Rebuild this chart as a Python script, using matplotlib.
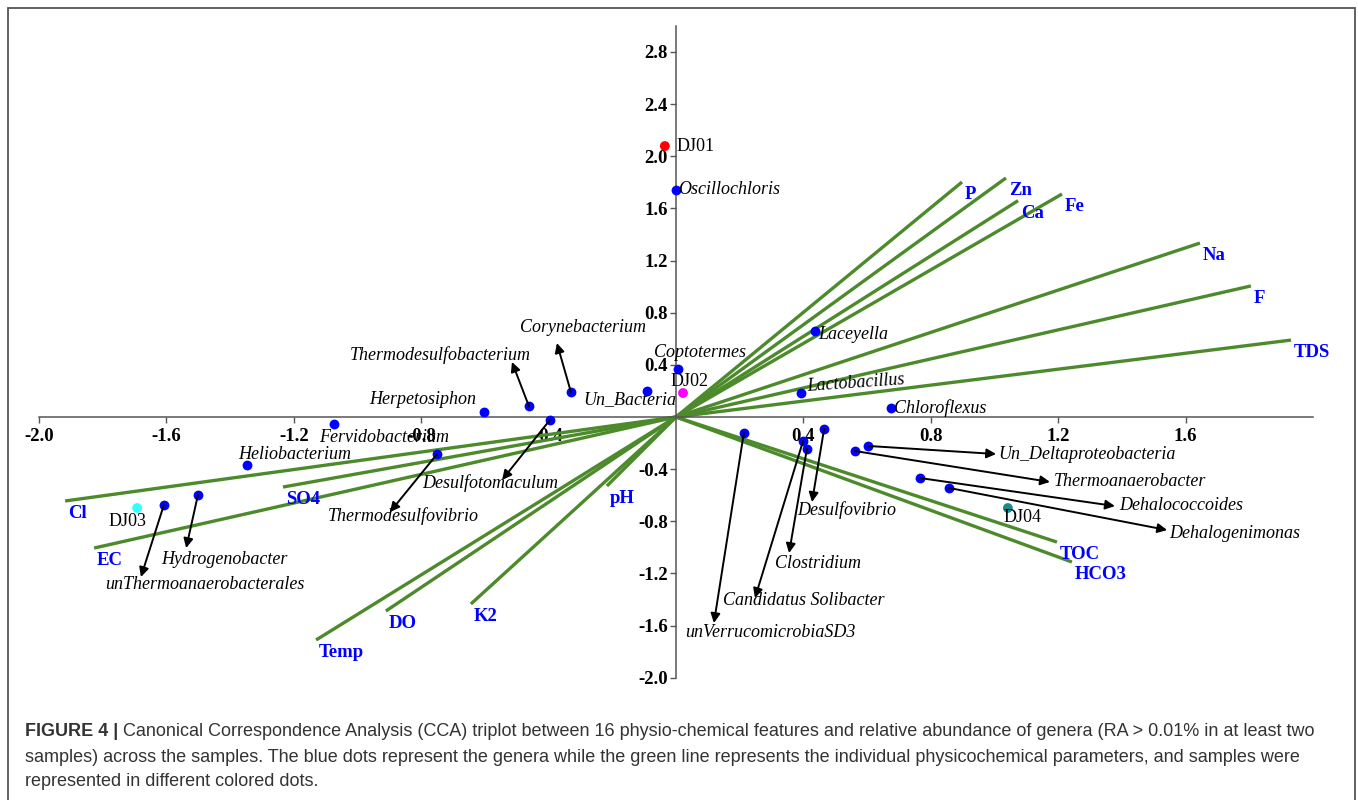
import matplotlib
matplotlib.use("Agg")
import matplotlib.pyplot as plt
from matplotlib.patches import Rectangle

plt.rcParams['axes.unicode_minus'] = False

# sample scores
samples = ["DJ01", "DJ02", "DJ03", "DJ04"]
sample_x = [-0.035, 0.022, -1.692, 1.042]
sample_y = [2.078, 0.184, -0.698, -0.698]
sample_colors = ["#ff0000", "#ff00ff", "#33ffff", "#1a8c8c"]

# physico-chemical vectors (end points)
env_names = ["P", "Zn", "Ca", "Fe", "Na", "F", "TDS", "TOC", "HCO3",
             "pH", "K2", "DO", "Temp", "SO4", "EC", "Cl"]
env_x = [0.898, 1.036, 1.074, 1.212, 1.645, 1.805, 1.931, 1.196, 1.243,
         -0.217, -0.644, -0.911, -1.130, -1.234, -1.827, -1.918]
env_y = [1.802, 1.833, 1.659, 1.710, 1.334, 1.005, 0.590, -0.959, -1.112,
         -0.529, -1.434, -1.488, -1.710, -0.537, -1.005, -0.644]

# genera labelled directly next to their dot
genera = ["Oscillochloris", "Laceyella", "Lactobacillus", "Chloroflexus",
          "Coptotermes", "Un_Bacteria", "Herpetosiphon", "Fervidobacterium",
          "Heliobacterium"]
genus_x = [0.000, 0.436, 0.392, 0.675, 0.006, -0.091, -0.603, -1.074, -1.347]
genus_y = [1.741, 0.660, 0.184, 0.069, 0.368, 0.199, 0.038, -0.054, -0.368]

# genera labelled through an arrow
arrow_genera = ["Corynebacterium", "Thermodesulfobacterium", "Desulfotomaculum",
                "Thermodesulfovibrio", "Hydrogenobacter", "unThermoanaerobacterales",
                "unVerrucomicrobiaSD3", "Candidatus Solibacter", "Clostridium",
                "Desulfovibrio", "Un_Deltaproteobacteria", "Thermoanaerobacter",
                "Dehalococcoides", "Dehalogenimonas"]
arrow_x = [-0.330, -0.462, -0.396, -0.750, -1.501, -1.608,
           0.213, 0.399, 0.411, 0.465, 0.603, 0.562, 0.766, 0.857]
arrow_y = [0.192, 0.084, -0.023, -0.284, -0.598, -0.675,
           -0.123, -0.184, -0.245, -0.092, -0.222, -0.261, -0.468, -0.544]
head_x = [-0.374, -0.515, -0.546, -0.898, -1.538, -1.680,
          0.119, 0.248, 0.355, 0.427, 1.005, 1.174, 1.378, 1.542]
head_y = [0.567, 0.422, -0.483, -0.729, -1.005, -1.227,
          -1.580, -1.388, -1.043, -0.652, -0.284, -0.498, -0.683, -0.867]

# text placement (layout only)
genus_lab = [(0.006, 1.741, 'left'), (0.446, 0.629, 'left'), (0.408, 0.262, 'left'),
             (0.684, 0.069, 'left'), (0.075, 0.498, 'center'), (-0.144, 0.130, 'center'),
             (-0.794, 0.138, 'center'), (-0.917, -0.161, 'center'), (-1.196, -0.285, 'center')]
arrow_lab = [(-0.292, 0.683, 'center'), (-0.741, 0.475, 'center'), (-0.584, -0.506, 'center'),
             (-0.857, -0.759, 'center'), (-1.419, -1.089, 'center'), (-1.479, -1.281, 'center'),
             (0.295, -1.649, 'center'), (0.402, -1.411, 'center'), (0.446, -1.120, 'center'),
             (0.537, -0.713, 'center'), (1.011, -0.284, 'left'), (1.187, -0.498, 'left'),
             (1.391, -0.675, 'left'), (1.548, -0.890, 'left')]
sample_lab = [(0.003, 2.078), (-0.016, 0.276), (-1.783, -0.805), (1.027, -0.767)]

serif = 'Liberation Serif'
green = '#4c8a2c'

fig = plt.figure(figsize=(13.58, 8), dpi=100)
ax = fig.add_axes([39 / 1358, 1 - 677.8 / 800, 1274 / 1358, 652 / 800])
ax.set_xlim(-2.0, 2.0)
ax.set_ylim(-2.0, 3.0)

# axes through the origin
for s in ['top', 'right']:
    ax.spines[s].set_visible(False)
ax.spines['left'].set_position(('data', 0))
ax.spines['bottom'].set_position(('data', 0))
for s in ['left', 'bottom']:
    ax.spines[s].set_color('#555555')
    ax.spines[s].set_linewidth(1.1)
xt = [-2.0, -1.6, -1.2, -0.8, -0.4, 0.4, 0.8, 1.2, 1.6]
yt = [-2.0, -1.6, -1.2, -0.8, -0.4, 0.4, 0.8, 1.2, 1.6, 2.0, 2.4, 2.8]
ax.set_xticks(xt)
ax.set_xticklabels([f"{v:.1f}" for v in xt])
ax.set_yticks(yt)
ax.set_yticklabels([f"{v:.1f}" for v in yt])
ax.tick_params(direction='out', length=4, width=1, color='#555555')
ax.tick_params(axis='x', pad=4)
ax.tick_params(axis='y', pad=2)
for lab in ax.get_xticklabels() + ax.get_yticklabels():
    lab.set_fontfamily(serif)
    lab.set_fontweight('bold')
    lab.set_fontsize(13.5)

# environmental vectors
for name, ex, ey in zip(env_names, env_x, env_y):
    ax.plot([0, ex], [0, ey], color=green, lw=2.4, solid_capstyle='butt', zorder=2)
    ax.annotate(name, (ex, ey), xytext=(2.2, -2.8), textcoords='offset points',
                ha='left', va='top', color='#0000ff', fontfamily=serif,
                fontweight='bold', fontsize=13.5, zorder=3)

# genera
ax.scatter(genus_x, genus_y, s=50, color='#0000ff', zorder=4, linewidths=0)
ax.scatter(arrow_x, arrow_y, s=50, color='#0000ff', zorder=4, linewidths=0)
for name, (lx, ly, ha) in zip(genera, genus_lab):
    rot = 4 if name == "Lactobacillus" else 0
    ax.text(lx, ly, name, ha=ha, va='center', fontfamily=serif, fontstyle='italic',
            fontsize=13, rotation=rot, zorder=5)
for i, name in enumerate(arrow_genera):
    ax.annotate('', xy=(head_x[i], head_y[i]), xytext=(arrow_x[i], arrow_y[i]),
                arrowprops=dict(arrowstyle='-|>', color='black', lw=1.4,
                                mutation_scale=14, shrinkA=0, shrinkB=0), zorder=5)
    lx, ly, ha = arrow_lab[i]
    ax.text(lx, ly, name, ha=ha, va='center', fontfamily=serif, fontstyle='italic',
            fontsize=13, zorder=5)

# samples
ax.scatter(sample_x, sample_y, s=50, c=sample_colors, zorder=4, linewidths=0)
for name, (lx, ly) in zip(samples, sample_lab):
    ax.text(lx, ly, name, ha='left', va='center', fontfamily=serif, fontsize=13, zorder=5)

# caption
cap_kw = dict(fontfamily='Liberation Sans', fontsize=13, color='#333333', va='center')
t1 = fig.text(25 / 1358, 1 - 732 / 800, "FIGURE 4 |", fontweight='bold', **cap_kw)
fig.canvas.draw()
bb = t1.get_window_extent()
fig.text((bb.x1 + 5) / 1358, 1 - 732 / 800,
         "Canonical Correspondence Analysis (CCA) triplot between 16 physio-chemical features "
         "and relative abundance of genera (RA > 0.01% in at least two", **cap_kw)
fig.text(25 / 1358, 1 - 758 / 800,
         "samples) across the samples. The blue dots represent the genera while the green line "
         "represents the individual physicochemical parameters, and samples were", **cap_kw)
fig.text(25 / 1358, 1 - 782 / 800, "represented in different colored dots.", **cap_kw)

# outer frame
fig.patches.append(Rectangle((8 / 1358, -0.01), 1347 / 1358, 1 - 8 / 800 + 0.01,
                             transform=fig.transFigure, fill=False,
                             edgecolor='#555555', lw=1.3))

fig.savefig("out.png", dpi=100)
